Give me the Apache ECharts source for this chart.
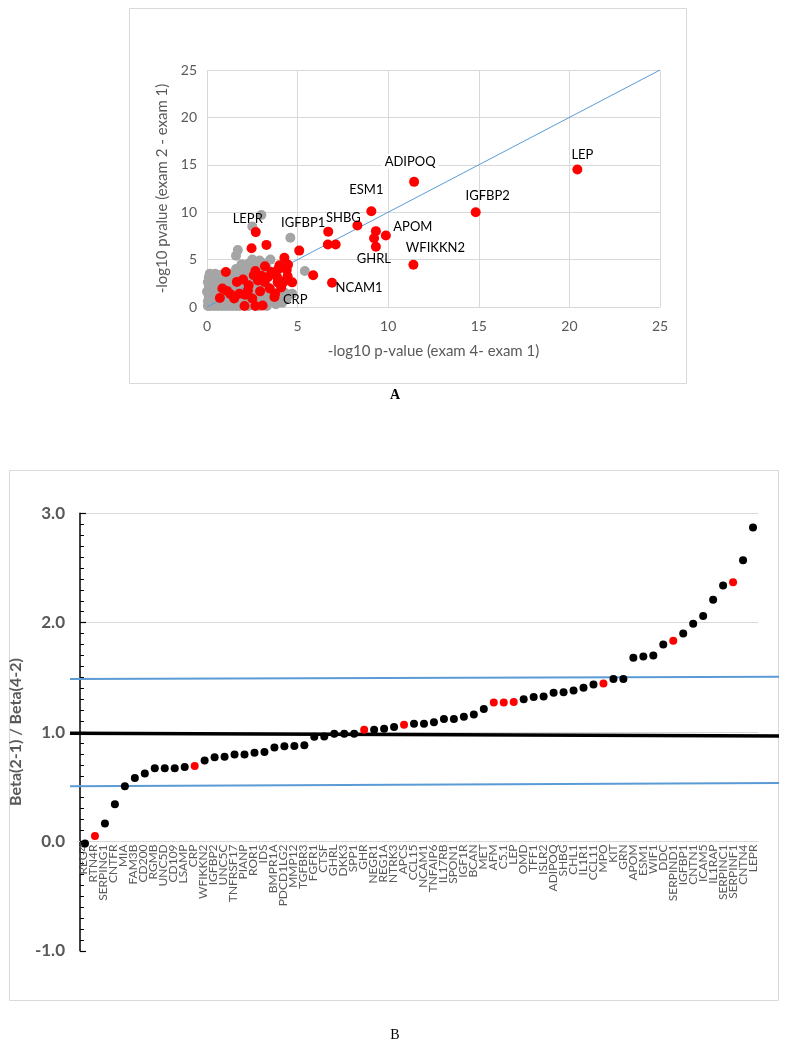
<!DOCTYPE html>
<html>
<head>
<meta charset="utf-8">
<script src="https://cdn.jsdelivr.net/npm/echarts@6/dist/echarts.min.js"></script>
<style>
html,body{margin:0;padding:0;background:#fff;}
#chart{width:788px;height:1050px;}
</style>
</head>
<body>
<div id="chart"></div>
<script>
// ---------------- Panel A data ----------------
const axisTicksA = [0, 5, 10, 15, 20, 25];
// labelled significant proteins: [name, -log10 p (exam4-exam1), -log10 p (exam2-exam1)]
const labeledRed = [
  ['LEP', 20.44, 14.5], ['ADIPOQ', 11.43, 13.2], ['IGFBP2', 14.83, 10.0],
  ['ESM1', 9.07, 10.1], ['SHBG', 8.3, 8.6], ['APOM', 9.87, 7.55],
  ['WFIKKN2', 11.39, 4.45], ['GHRL', 9.32, 6.35], ['NCAM1', 6.9, 2.55],
  ['LEPR', 2.69, 7.9], ['IGFBP1', 6.69, 7.95]
];
const redPoints = [
  [9.32, 8.0], [9.22, 7.25], [6.67, 6.6], [7.1, 6.6], [5.86, 3.35], [5.09, 5.95],
  [3.28, 6.55], [2.46, 6.2], [4.27, 5.2], [4.47, 4.45], [1.04, 3.7], [3.2, 4.3],
  [2.67, 3.8], [3.95, 4.05], [4.45, 3.25], [4.7, 2.6], [4.15, 2.45], [1.99, 2.9],
  [1.65, 2.65], [0.85, 1.95], [0.71, 0.95], [1.3, 1.35], [2.07, 0.1], [2.67, 0.1],
  [3.07, 0.15], [2.5, 0.9], [2.93, 1.65], [2.26, 1.75], [1.79, 1.4], [3.46, 1.95],
  [3.76, 1.4], [3.72, 1.05], [3.17, 2.65], [2.81, 2.8], [3.36, 3.15], [2.58, 3.35],
  [3.86, 3.2], [3.56, 3.7], [4.09, 2.05], [4.29, 2.75], [1.5, 0.9], [2.1, 1.3],
  [3.0, 3.3], [2.3, 2.3], [4.4, 3.9], [3.9, 2.6], [1.1, 1.7], [4.0, 4.4]
];
const labeledGray = [['CRP', 4.15, 0.45]];
const grayPoints = [
  [0.05,0.1],[0.2,0.1],[0.4,0.1],[0.6,0.1],[0.8,0.1],[1.0,0.1],[1.2,0.1],[1.4,0.1],[1.6,0.1],[1.8,0.1],[2.3,0.1],[2.9,0.1],[3.3,0.1],[3.8,0.3],[4.4,0.9],
  [0.05,0.6],[0.3,0.6],[0.55,0.6],[0.9,0.6],[1.15,0.6],[1.75,0.6],[2.1,0.6],[2.8,0.6],[3.1,0.6],[3.5,0.6],
  [0.1,1.1],[0.35,1.1],[0.6,1.1],[0.95,1.1],[1.2,1.1],[1.45,1.1],[1.8,1.1],[2.15,1.0],[2.5,1.2],[2.75,1.1],[3.0,1.1],[3.4,1.1],[3.9,1.0],
  [0.0,1.6],[0.3,1.6],[0.55,1.6],[0.8,1.5],[1.4,1.6],[1.7,1.7],[2.0,1.6],[2.35,1.5],[2.7,1.6],[3.05,1.4],[3.6,1.6],[4.3,1.5],[4.7,1.4],
  [0.1,2.1],[0.4,2.1],[0.7,2.2],[1.0,2.1],[1.3,2.1],[1.6,2.1],[1.95,2.2],[2.6,2.1],[3.0,2.1],[3.3,2.2],
  [0.05,2.6],[0.35,2.6],[0.65,2.6],[0.9,2.6],[1.25,2.6],[2.2,2.6],[2.55,2.6],[2.9,2.5],[3.2,2.4],
  [0.1,3.1],[0.4,3.1],[0.75,3.1],[1.05,3.1],[1.35,3.1],[1.7,3.2],[2.0,3.2],[2.4,3.1],[2.75,3.2],[3.1,3.1],
  [0.15,3.5],[0.45,3.5],[0.8,3.4],[1.2,3.5],[1.5,3.4],[1.9,3.6],[2.25,3.6],[2.6,3.6],[3.0,3.7],
  [1.6,4.0],[1.9,4.1],[2.1,3.9],[2.4,4.1],[2.9,4.0],[3.3,4.1],
  [1.9,4.5],[2.3,4.6],[2.7,4.5],[3.2,4.6],
  [2.5,5.0],[2.9,4.9],[3.5,5.0],[1.6,5.4],[1.7,6.0],[2.5,8.5],[3.0,9.7],[4.6,7.3],[5.4,3.8]
];
const identityLine = [[0, 0], [25, 25]];

// ---------------- Panel B data ----------------
const categories = ['REG4','RTN4R','SERPING1','CNTFR','MIA','FAM3B','CD200','RGMB','UNC5D','CD109','LSAMP','CRP','WFIKKN2','IGFBP2','UNC5C','TNFRSF17','PIANP','ROR1','IDS','BMPR1A','PDCD1LG2','MMP12','TGFBR3','FGFR1','CTSF','GHRL','DKK3','SPP1','GHR','NEGR1','REG1A','NTRK3','APCS','CCL15','NCAM1','TNFAIP6','IL17RB','SPON1','IGF1R','BCAN','MET','AFM','C5.1','LEP','OMD','TFF1','ISLR2','ADIPOQ','SHBG','CHL1','IL1R1','CCL11','MPO','KIT','GRN','APOM','ESM1','WIF1','DDC','SERPIND1','IGFBP1','CNTN1','ICAM5','IL1RAP','SERPINC1','SERPINF1','CNTN4','LEPR'];
const betaRatio = [-0.02,0.05,0.165,0.34,0.505,0.58,0.62,0.67,0.67,0.67,0.68,0.69,0.74,0.77,0.775,0.795,0.795,0.81,0.818,0.858,0.87,0.872,0.88,0.957,0.96,0.985,0.985,0.985,1.02,1.02,1.03,1.046,1.067,1.076,1.076,1.09,1.12,1.12,1.14,1.16,1.21,1.27,1.27,1.275,1.30,1.32,1.325,1.36,1.365,1.38,1.405,1.435,1.445,1.485,1.485,1.68,1.69,1.70,1.80,1.835,1.90,1.99,2.06,2.21,2.34,2.37,2.57,2.87];
const highlighted = ['RTN4R','CRP','GHR','APCS','AFM','C5.1','LEP','MPO','SERPIND1','SERPINF1'];
const yTicksB = [-1, 0, 1, 2, 3];
const upperBand = [1.485, 1.505];
const unityLine = [0.99, 0.965];
const lowerBand = [0.505, 0.535];

// ---------------- styles ----------------
const FONT = 'Lato, "Open Sans", sans-serif';
const GRID_COLOR = '#D9D9D9';
const TEXT_GRAY = '#595959';
const labelOffsets = {
  LEP: [5, -15], ADIPOQ: [-4, -20], IGFBP2: [12, -16], ESM1: [-5, -21],
  SHBG: [-14, -8], APOM: [27, -9], WFIKKN2: [22, -17], GHRL: [-2, 12],
  NCAM1: [27, 5], LEPR: [-8, -13], IGFBP1: [-25, -9], CRP: [13, -3]
};
function labelFor(name) {
  const o = {
    show: true, formatter: name, position: 'inside', offset: labelOffsets[name],
    color: '#000', fontFamily: FONT, fontSize: 13
  };
  if (name === 'ADIPOQ') { o.backgroundColor = '#fff'; o.padding = [1, 3]; }
  return o;
}

const redData = labeledRed.map(d => ({ value: [d[1], d[2]], label: labelFor(d[0]) }))
  .concat(redPoints.map(p => ({ value: p })));
const grayData = grayPoints.map(p => ({ value: p }))
  .concat(labeledGray.map(d => ({ value: [d[1], d[2]], label: labelFor(d[0]) })));
const betaData = betaRatio.map((v, i) => ({
  value: v,
  itemStyle: { color: highlighted.includes(categories[i]) ? '#FF0000' : '#000000', opacity: 1 }
}));

// panel B geometry: y = 3.0 at 513.3 px, y = -1.0 at 950.8 px
const B_TOP = 513.3, B_H = 437.5, B_ZERO_H = B_H * 3 / 4;

const chart = echarts.init(document.getElementById('chart'), null, { renderer: 'canvas' });
chart.setOption({
  animation: false,
  backgroundColor: '#fff',
  grid: [
    { left: 207, top: 70, width: 453, height: 237 },
    { left: 78, top: B_TOP, width: 680, height: B_H },
    { left: 70, top: B_TOP, width: 709, height: B_H },
    { left: 78, top: B_TOP, width: 680, height: B_ZERO_H }
  ],
  xAxis: [
    {
      gridIndex: 0, type: 'value', min: axisTicksA[0], max: axisTicksA[axisTicksA.length - 1], interval: 5,
      axisLine: { show: false }, axisTick: { show: false },
      splitLine: { lineStyle: { color: GRID_COLOR, width: 1 } },
      axisLabel: { color: TEXT_GRAY, fontSize: 14, fontFamily: FONT, margin: 12 },
      name: '-log10 p-value (exam 4- exam 1)', nameLocation: 'middle', nameGap: 37,
      nameTextStyle: { color: TEXT_GRAY, fontSize: 15, fontFamily: FONT }
    },
    {
      gridIndex: 1, type: 'category', data: categories, boundaryGap: true,
      axisLine: { show: false }, axisTick: { show: false }, axisLabel: { show: false },
      splitLine: { show: false }
    },
    { gridIndex: 2, type: 'value', min: 0, max: 1, show: false },
    {
      gridIndex: 3, type: 'category', data: categories, boundaryGap: true, position: 'bottom',
      axisLine: { show: true, lineStyle: { color: GRID_COLOR, width: 1.2 } },
      axisTick: { show: false }, splitLine: { show: false },
      axisLabel: { interval: 0, rotate: 90, color: TEXT_GRAY, fontSize: 12, fontFamily: FONT, margin: 3 }
    }
  ],
  yAxis: [
    {
      gridIndex: 0, type: 'value', min: axisTicksA[0], max: axisTicksA[axisTicksA.length - 1], interval: 5,
      axisLine: { show: false }, axisTick: { show: false },
      splitLine: { lineStyle: { color: GRID_COLOR, width: 1 } },
      axisLabel: { color: TEXT_GRAY, fontSize: 14, fontFamily: FONT, margin: 10 },
      name: '-log10 pvalue (exam 2 - exam 1)', nameLocation: 'middle', nameGap: 36,
      nameTextStyle: { color: TEXT_GRAY, fontSize: 15, fontFamily: FONT }
    },
    {
      gridIndex: 1, type: 'value', min: yTicksB[0], max: yTicksB[yTicksB.length - 1], interval: 1,
      axisLine: { show: true, onZero: false, lineStyle: { color: '#000', width: 1.5 } },
      axisTick: { show: true, inside: true, length: 6, lineStyle: { color: '#000', width: 1.2 } },
      minorTick: { show: true, splitNumber: 10, length: 4, lineStyle: { color: '#000', width: 1 } },
      splitLine: { show: true, lineStyle: { color: ['rgba(0,0,0,0)', GRID_COLOR, GRID_COLOR, GRID_COLOR, GRID_COLOR], width: 1.2 } },
      axisLabel: { color: TEXT_GRAY, fontSize: 17, fontWeight: 'bold', fontFamily: FONT, margin: 15,
        formatter: v => v.toFixed(1) },
      name: 'Beta(2-1) / Beta(4-2)', nameLocation: 'middle', nameGap: 44,
      nameTextStyle: { color: TEXT_GRAY, fontSize: 16, fontWeight: 'bold', fontFamily: FONT }
    },
    { gridIndex: 2, type: 'value', min: yTicksB[0], max: yTicksB[yTicksB.length - 1], show: false },
    { gridIndex: 3, type: 'value', min: 0, max: 3, show: false }
  ],
  series: [
    {
      type: 'scatter', xAxisIndex: 0, yAxisIndex: 0, symbolSize: 10, z: 2,
      itemStyle: { color: '#A5A5A5', opacity: 1 }, data: grayData
    },
    {
      type: 'line', xAxisIndex: 0, yAxisIndex: 0, showSymbol: false, symbol: 'none', z: 3,
      lineStyle: { color: '#5B9BD5', width: 1 }, data: identityLine
    },
    {
      type: 'scatter', xAxisIndex: 0, yAxisIndex: 0, symbolSize: 10, z: 4,
      itemStyle: { color: '#FF0000', opacity: 1 }, data: redData
    },
    {
      type: 'line', xAxisIndex: 2, yAxisIndex: 2, symbol: 'none', z: 1,
      lineStyle: { color: '#5B9BD5', width: 2 }, data: [[0, upperBand[0]], [1, upperBand[1]]]
    },
    {
      type: 'line', xAxisIndex: 2, yAxisIndex: 2, symbol: 'none', z: 1,
      lineStyle: { color: '#000', width: 3.5 }, data: [[0, unityLine[0]], [1, unityLine[1]]]
    },
    {
      type: 'line', xAxisIndex: 2, yAxisIndex: 2, symbol: 'none', z: 1,
      lineStyle: { color: '#5B9BD5', width: 2 }, data: [[0, lowerBand[0]], [1, lowerBand[1]]]
    },
    {
      type: 'scatter', xAxisIndex: 1, yAxisIndex: 1, symbolSize: 8, z: 5,
      data: betaData
    }
  ],
  graphic: [
    { type: 'rect', z: -10, shape: { x: 129.5, y: 8.5, width: 557, height: 375 },
      style: { fill: 'none', stroke: GRID_COLOR, lineWidth: 1 } },
    { type: 'rect', z: -10, shape: { x: 9.5, y: 470.5, width: 769, height: 530 },
      style: { fill: 'none', stroke: GRID_COLOR, lineWidth: 1 } },
    { type: 'text', x: 395, y: 395,
      style: { text: 'A', font: 'bold 14px "Liberation Serif", "DejaVu Serif", serif', fill: '#000',
        align: 'center', verticalAlign: 'middle', textAlign: 'center', textVerticalAlign: 'middle' } },
    { type: 'text', x: 395, y: 1035,
      style: { text: 'B', font: '14px "Liberation Serif", "DejaVu Serif", serif', fill: '#000',
        align: 'center', verticalAlign: 'middle', textAlign: 'center', textVerticalAlign: 'middle' } }
  ]
});
</script>
</body>
</html>
